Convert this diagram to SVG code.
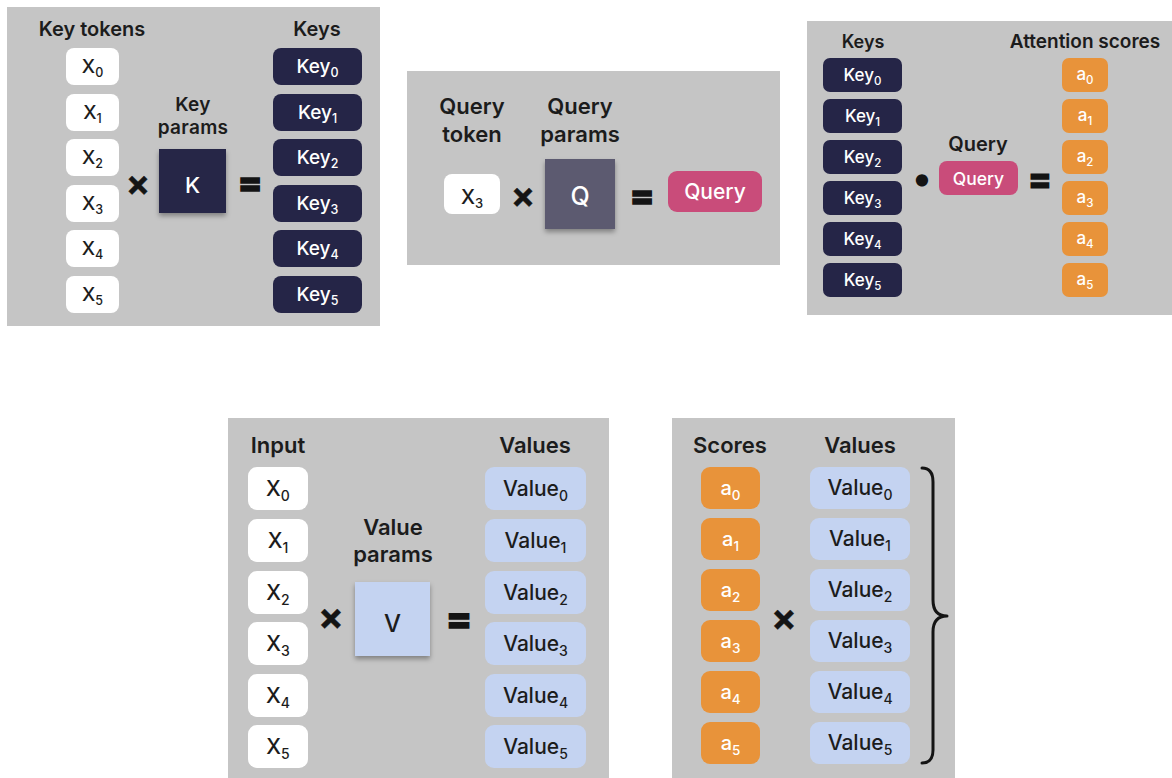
<svg xmlns="http://www.w3.org/2000/svg" width="1172" height="778" viewBox="0 0 1172 778">
  <style>
    text { font-family: "Inter", "Noto Sans", "Liberation Sans", sans-serif; text-anchor: middle; }
    .panel { fill: #c5c5c5; }
    .hd { font-weight: 600; fill: #1c1c1c; }
    .lbl { font-weight: 500; }
    .white { fill: #ffffff; }
    .navy { fill: #252547; }
    .orange { fill: #e8933a; }
    .pink { fill: #c94c7a; }
    .blue { fill: #c4d3f1; }
    .qbox { fill: #5c5a70; }
    .tw { fill: #ffffff; }
    .td { fill: #1c1c1c; }
    .op { font-weight: 800; fill: #141414; stroke: #141414; stroke-width: 1.6; }
    .times { font-weight: 700; fill: #141414; stroke: #141414; stroke-width: 0.4; }
    .brace { fill: none; stroke: #141414; stroke-width: 3; stroke-linecap: round; stroke-linejoin: round; }
  </style>
  <defs>
    <filter id="drop" x="-20%" y="-20%" width="140%" height="150%">
      <feDropShadow dx="0" dy="3" stdDeviation="2.5" flood-color="#000" flood-opacity="0.35"/>
    </filter>
  </defs>

  <!-- panel backgrounds -->
  <rect class="panel" x="7" y="7" width="373" height="319"/>
  <rect class="panel" x="407" y="71" width="373" height="194"/>
  <rect class="panel" x="807" y="21" width="365" height="294"/>
  <rect class="panel" x="228" y="418" width="381" height="360"/>
  <rect class="panel" x="672" y="418" width="283" height="360"/>

  <!-- ===== Key projection ===== -->
  <g id="key-projection">
    <text class="hd" x="92" y="36" font-size="20">Key tokens</text>
    <text class="hd" x="317" y="36" font-size="20">Keys</text>
    <text class="hd" x="193" y="111" font-size="19" letter-spacing="0.3">Key</text>
    <text class="hd" x="193" y="134" font-size="19" letter-spacing="0.3">params</text>
  </g>
  <g id="key-token-0"><rect class="white" x="66" y="48" width="53" height="37" rx="8"/><text class="lbl td" x="92.5" y="73" font-size="19">X<tspan dy="4" font-size="12.5">0</tspan></text></g>
  <g id="key-token-1"><rect class="white" x="66" y="94" width="53" height="37" rx="8"/><text class="lbl td" x="92.5" y="119" font-size="19">X<tspan dy="4" font-size="12.5">1</tspan></text></g>
  <g id="key-token-2"><rect class="white" x="66" y="139" width="53" height="37" rx="8"/><text class="lbl td" x="92.5" y="164" font-size="19">X<tspan dy="4" font-size="12.5">2</tspan></text></g>
  <g id="key-token-3"><rect class="white" x="66" y="185" width="53" height="37" rx="8"/><text class="lbl td" x="92.5" y="210" font-size="19">X<tspan dy="4" font-size="12.5">3</tspan></text></g>
  <g id="key-token-4"><rect class="white" x="66" y="230" width="53" height="37" rx="8"/><text class="lbl td" x="92.5" y="255" font-size="19">X<tspan dy="4" font-size="12.5">4</tspan></text></g>
  <g id="key-token-5"><rect class="white" x="66" y="276" width="53" height="37" rx="8"/><text class="lbl td" x="92.5" y="301" font-size="19">X<tspan dy="4" font-size="12.5">5</tspan></text></g>
  <g id="key-params"><rect class="navy" x="159" y="149" width="67" height="64" filter="url(#drop)"/><text class="lbl tw" x="192.5" y="193" font-size="22">K</text></g>
  <g id="key-0"><rect class="navy" x="273" y="48" width="89" height="37" rx="8"/><text class="lbl tw" x="317.5" y="73" font-size="19">Key<tspan dy="4" font-size="12.5">0</tspan></text></g>
  <g id="key-1"><rect class="navy" x="273" y="94" width="89" height="37" rx="8"/><text class="lbl tw" x="317.5" y="119" font-size="19">Key<tspan dy="4" font-size="12.5">1</tspan></text></g>
  <g id="key-2"><rect class="navy" x="273" y="139" width="89" height="37" rx="8"/><text class="lbl tw" x="317.5" y="164" font-size="19">Key<tspan dy="4" font-size="12.5">2</tspan></text></g>
  <g id="key-3"><rect class="navy" x="273" y="185" width="89" height="37" rx="8"/><text class="lbl tw" x="317.5" y="210" font-size="19">Key<tspan dy="4" font-size="12.5">3</tspan></text></g>
  <g id="key-4"><rect class="navy" x="273" y="230" width="89" height="37" rx="8"/><text class="lbl tw" x="317.5" y="255" font-size="19">Key<tspan dy="4" font-size="12.5">4</tspan></text></g>
  <g id="key-5"><rect class="navy" x="273" y="276" width="89" height="37" rx="8"/><text class="lbl tw" x="317.5" y="301" font-size="19">Key<tspan dy="4" font-size="12.5">5</tspan></text></g>

  <!-- ===== Query projection ===== -->
  <g id="query-projection">
    <text class="hd" x="472" y="114" font-size="22">Query</text>
    <text class="hd" x="472" y="142" font-size="22">token</text>
    <text class="hd" x="580" y="114" font-size="22">Query</text>
    <text class="hd" x="580" y="142" font-size="22">params</text>
  </g>
  <g id="query-token"><rect class="white" x="444" y="174" width="56" height="40" rx="8"/><text class="lbl td" x="472" y="204" font-size="20">X<tspan dy="4" font-size="13">3</tspan></text></g>
  <g id="query-params"><rect class="qbox" x="545" y="159" width="70" height="70" filter="url(#drop)"/><text class="lbl tw" x="580" y="205" font-size="25">Q</text></g>
  <g id="query-result"><rect class="pink" x="668" y="171" width="94" height="41" rx="9"/><text class="lbl tw" x="715" y="199" font-size="21">Query</text></g>

  <!-- ===== Attention scores ===== -->
  <g id="score-headers">
    <text class="hd" x="863" y="48" font-size="18">Keys</text>
    <text class="hd" x="1085" y="48" font-size="19">Attention scores</text>
    <text class="hd" x="978" y="151" font-size="20">Query</text>
  </g>
  <g id="score-key-0"><rect class="navy" x="823" y="58" width="79" height="34" rx="7"/><text class="lbl tw" x="862.5" y="81" font-size="17">Key<tspan dy="3.5" font-size="11.5">0</tspan></text></g>
  <g id="score-key-1"><rect class="navy" x="823" y="99" width="79" height="34" rx="7"/><text class="lbl tw" x="862.5" y="122" font-size="17">Key<tspan dy="3.5" font-size="11.5">1</tspan></text></g>
  <g id="score-key-2"><rect class="navy" x="823" y="140" width="79" height="34" rx="7"/><text class="lbl tw" x="862.5" y="163" font-size="17">Key<tspan dy="3.5" font-size="11.5">2</tspan></text></g>
  <g id="score-key-3"><rect class="navy" x="823" y="181" width="79" height="34" rx="7"/><text class="lbl tw" x="862.5" y="204" font-size="17">Key<tspan dy="3.5" font-size="11.5">3</tspan></text></g>
  <g id="score-key-4"><rect class="navy" x="823" y="222" width="79" height="34" rx="7"/><text class="lbl tw" x="862.5" y="245" font-size="17">Key<tspan dy="3.5" font-size="11.5">4</tspan></text></g>
  <g id="score-key-5"><rect class="navy" x="823" y="263" width="79" height="34" rx="7"/><text class="lbl tw" x="862.5" y="286" font-size="17">Key<tspan dy="3.5" font-size="11.5">5</tspan></text></g>
  <g id="score-query"><rect class="pink" x="939" y="161" width="79" height="34" rx="8"/><text class="lbl tw" x="978.5" y="184.5" font-size="17.5">Query</text></g>
  <g id="score-a-0"><rect class="orange" x="1062" y="58" width="46" height="34" rx="7"/><text class="lbl tw" x="1085" y="80" font-size="17">a<tspan dy="3.5" font-size="11.5">0</tspan></text></g>
  <g id="score-a-1"><rect class="orange" x="1062" y="99" width="46" height="34" rx="7"/><text class="lbl tw" x="1085" y="121" font-size="17">a<tspan dy="3.5" font-size="11.5">1</tspan></text></g>
  <g id="score-a-2"><rect class="orange" x="1062" y="140" width="46" height="34" rx="7"/><text class="lbl tw" x="1085" y="162" font-size="17">a<tspan dy="3.5" font-size="11.5">2</tspan></text></g>
  <g id="score-a-3"><rect class="orange" x="1062" y="181" width="46" height="34" rx="7"/><text class="lbl tw" x="1085" y="203" font-size="17">a<tspan dy="3.5" font-size="11.5">3</tspan></text></g>
  <g id="score-a-4"><rect class="orange" x="1062" y="222" width="46" height="34" rx="7"/><text class="lbl tw" x="1085" y="244" font-size="17">a<tspan dy="3.5" font-size="11.5">4</tspan></text></g>
  <g id="score-a-5"><rect class="orange" x="1062" y="263" width="46" height="34" rx="7"/><text class="lbl tw" x="1085" y="285" font-size="17">a<tspan dy="3.5" font-size="11.5">5</tspan></text></g>

  <!-- ===== Value projection ===== -->
  <g id="value-projection">
    <text class="hd" x="278" y="453" font-size="22">Input</text>
    <text class="hd" x="535" y="453" font-size="22">Values</text>
    <text class="hd" x="393" y="535" font-size="22">Value</text>
    <text class="hd" x="393" y="562" font-size="22">params</text>
  </g>
  <g id="input-0"><rect class="white" x="248" y="467" width="60" height="43" rx="9"/><text class="lbl td" x="278" y="496" font-size="21">X<tspan dy="4.5" font-size="14">0</tspan></text></g>
  <g id="input-1"><rect class="white" x="248" y="519" width="60" height="43" rx="9"/><text class="lbl td" x="278" y="548" font-size="21">X<tspan dy="4.5" font-size="14">1</tspan></text></g>
  <g id="input-2"><rect class="white" x="248" y="571" width="60" height="43" rx="9"/><text class="lbl td" x="278" y="600" font-size="21">X<tspan dy="4.5" font-size="14">2</tspan></text></g>
  <g id="input-3"><rect class="white" x="248" y="622" width="60" height="43" rx="9"/><text class="lbl td" x="278" y="651" font-size="21">X<tspan dy="4.5" font-size="14">3</tspan></text></g>
  <g id="input-4"><rect class="white" x="248" y="674" width="60" height="43" rx="9"/><text class="lbl td" x="278" y="703" font-size="21">X<tspan dy="4.5" font-size="14">4</tspan></text></g>
  <g id="input-5"><rect class="white" x="248" y="725" width="60" height="43" rx="9"/><text class="lbl td" x="278" y="754" font-size="21">X<tspan dy="4.5" font-size="14">5</tspan></text></g>
  <g id="value-params"><rect class="blue" x="355" y="582" width="75" height="74" filter="url(#drop)"/><text class="lbl td" x="392.5" y="632" font-size="24">V</text></g>
  <g id="value-0"><rect class="blue" x="485" y="467" width="101" height="43" rx="9"/><text class="lbl td" x="535.5" y="496" font-size="21">Value<tspan dy="4.5" font-size="14">0</tspan></text></g>
  <g id="value-1"><rect class="blue" x="485" y="519" width="101" height="43" rx="9"/><text class="lbl td" x="535.5" y="548" font-size="21">Value<tspan dy="4.5" font-size="14">1</tspan></text></g>
  <g id="value-2"><rect class="blue" x="485" y="571" width="101" height="43" rx="9"/><text class="lbl td" x="535.5" y="600" font-size="21">Value<tspan dy="4.5" font-size="14">2</tspan></text></g>
  <g id="value-3"><rect class="blue" x="485" y="622" width="101" height="43" rx="9"/><text class="lbl td" x="535.5" y="651" font-size="21">Value<tspan dy="4.5" font-size="14">3</tspan></text></g>
  <g id="value-4"><rect class="blue" x="485" y="674" width="101" height="43" rx="9"/><text class="lbl td" x="535.5" y="703" font-size="21">Value<tspan dy="4.5" font-size="14">4</tspan></text></g>
  <g id="value-5"><rect class="blue" x="485" y="725" width="101" height="43" rx="9"/><text class="lbl td" x="535.5" y="754" font-size="21">Value<tspan dy="4.5" font-size="14">5</tspan></text></g>

  <!-- ===== Weighted values ===== -->
  <g id="weighted-headers">
    <text class="hd" x="730" y="453" font-size="22">Scores</text>
    <text class="hd" x="860" y="453" font-size="22">Values</text>
  </g>
  <g id="weight-a-0"><rect class="orange" x="701" y="467" width="59" height="42" rx="9"/><text class="lbl tw" x="730.5" y="495" font-size="20">a<tspan dy="4.5" font-size="13.5">0</tspan></text></g>
  <g id="weight-a-1"><rect class="orange" x="701" y="518" width="59" height="42" rx="9"/><text class="lbl tw" x="730.5" y="546" font-size="20">a<tspan dy="4.5" font-size="13.5">1</tspan></text></g>
  <g id="weight-a-2"><rect class="orange" x="701" y="569" width="59" height="42" rx="9"/><text class="lbl tw" x="730.5" y="597" font-size="20">a<tspan dy="4.5" font-size="13.5">2</tspan></text></g>
  <g id="weight-a-3"><rect class="orange" x="701" y="620" width="59" height="42" rx="9"/><text class="lbl tw" x="730.5" y="648" font-size="20">a<tspan dy="4.5" font-size="13.5">3</tspan></text></g>
  <g id="weight-a-4"><rect class="orange" x="701" y="671" width="59" height="42" rx="9"/><text class="lbl tw" x="730.5" y="699" font-size="20">a<tspan dy="4.5" font-size="13.5">4</tspan></text></g>
  <g id="weight-a-5"><rect class="orange" x="701" y="722" width="59" height="42" rx="9"/><text class="lbl tw" x="730.5" y="750" font-size="20">a<tspan dy="4.5" font-size="13.5">5</tspan></text></g>
  <g id="weight-value-0"><rect class="blue" x="810" y="467" width="100" height="42" rx="9"/><text class="lbl td" x="860" y="495" font-size="21">Value<tspan dy="4.5" font-size="14">0</tspan></text></g>
  <g id="weight-value-1"><rect class="blue" x="810" y="518" width="100" height="42" rx="9"/><text class="lbl td" x="860" y="546" font-size="21">Value<tspan dy="4.5" font-size="14">1</tspan></text></g>
  <g id="weight-value-2"><rect class="blue" x="810" y="569" width="100" height="42" rx="9"/><text class="lbl td" x="860" y="597" font-size="21">Value<tspan dy="4.5" font-size="14">2</tspan></text></g>
  <g id="weight-value-3"><rect class="blue" x="810" y="620" width="100" height="42" rx="9"/><text class="lbl td" x="860" y="648" font-size="21">Value<tspan dy="4.5" font-size="14">3</tspan></text></g>
  <g id="weight-value-4"><rect class="blue" x="810" y="671" width="100" height="42" rx="9"/><text class="lbl td" x="860" y="699" font-size="21">Value<tspan dy="4.5" font-size="14">4</tspan></text></g>
  <g id="weight-value-5"><rect class="blue" x="810" y="722" width="100" height="42" rx="9"/><text class="lbl td" x="860" y="750" font-size="21">Value<tspan dy="4.5" font-size="14">5</tspan></text></g>

  <!-- operators and the summing brace -->
  <g id="connectors">
    <text class="times" x="138" y="196" font-size="36">×</text>
    <text class="op" x="250" y="195" font-size="36">=</text>
    <text class="times" x="523" y="208" font-size="36">×</text>
    <text class="op" x="642" y="208" font-size="36">=</text>
    <text class="op" x="922" y="190" font-size="34">•</text>
    <text class="op" x="1040" y="191" font-size="34">=</text>
    <text class="times" x="331" y="630" font-size="38">×</text>
    <text class="op" x="459" y="632" font-size="38">=</text>
    <text class="times" x="784" y="631" font-size="38">×</text>
    <path class="brace" d="M922,468 Q933,468 933,482 L933,600 Q933,616 947,616 Q933,616 933,632 L933,750 Q933,763 922,763"/>
  </g>
</svg>
